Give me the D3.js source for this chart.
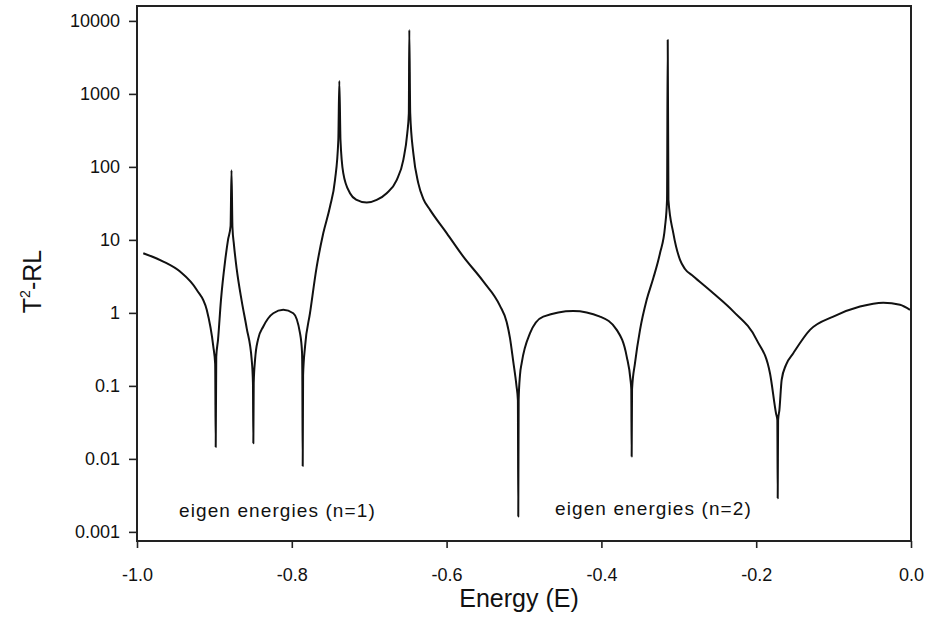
<!DOCTYPE html>
<html lang="en">
<head>
    <meta charset="UTF-8">
    <title>T2-RL vs Energy</title>
    <script src="https://d3js.org/d3.v7.min.js"></script>
    <style>
        body { margin: 0; background: #fff; }
        svg { font-family: "Liberation Sans", Arial, sans-serif; }
        .tick text { font-size: 18px; fill: #111; }
        .tick line { stroke: #222; stroke-width: 1.6; }
    </style>
</head>
<body>
    <svg width="930" height="643"></svg>

    <script>
        // values (energy, T^2-RL)
        const energy = [
            -0.9919, -0.9660, -0.9444, -0.9229, -0.9099, -0.9014, -0.8990, -0.8983, -0.8976, -0.8953,
            -0.8915, -0.8863, -0.8824, -0.8791, -0.8779, -0.8767, -0.8747, -0.8712, -0.8647, -0.8583,
            -0.8518, -0.8502, -0.8497, -0.8492, -0.8475, -0.8437, -0.8368, -0.8239, -0.8110, -0.7981,
            -0.7894, -0.7868, -0.7864, -0.7859, -0.7854, -0.7829, -0.7765, -0.7678, -0.7593, -0.7506,
            -0.7442, -0.7399, -0.7386, -0.7371, -0.7335, -0.7248, -0.7162, -0.7032, -0.6903, -0.6774,
            -0.6645, -0.6559, -0.6508, -0.6488, -0.6482, -0.6470, -0.6430, -0.6366, -0.6301, -0.6214,
            -0.5999, -0.5784, -0.5526, -0.5310, -0.5224, -0.5181, -0.5140, -0.5097, -0.5079, -0.5074,
            -0.5069, -0.5052, -0.5030, -0.4922, -0.4751, -0.4363, -0.4018, -0.3802, -0.3673, -0.3624,
            -0.3614, -0.3609, -0.3604, -0.3566, -0.3501, -0.3415, -0.3329, -0.3243, -0.3178, -0.3152,
            -0.3143, -0.3134, -0.3071, -0.2984, -0.2920, -0.2813, -0.2554, -0.2296, -0.1994, -0.1822,
            -0.1744, -0.1727, -0.1722, -0.1717, -0.1700, -0.1671, -0.1615, -0.1521, -0.1305, -0.1004,
            -0.0659, -0.0358, -0.0142, -0.0013
        ];
        const t2rl = [
            6.57, 5.05, 3.68, 2.07, 1.10, 0.345, 0.20, 0.0146, 0.25, 0.43,
            1.51, 5.0, 10, 15.5, 90, 15, 8.5, 4.0, 1.45, 0.62,
            0.227, 0.11, 0.0164, 0.11, 0.227, 0.43, 0.65, 0.99, 1.10, 0.99,
            0.527, 0.29, 0.14, 0.0080, 0.14, 0.345, 0.99, 4.3, 12.4, 28.6,
            66, 234, 1507, 234, 82, 43.6, 35.3, 32.4, 35.3, 43.6,
            66, 125, 290, 543, 7530, 543, 154, 60, 36.5, 25.8,
            12.4, 5.9, 2.7, 1.25, 0.75, 0.45, 0.22, 0.10, 0.064, 0.00162,
            0.064, 0.14, 0.205, 0.527, 0.89, 1.065, 0.89, 0.585, 0.252, 0.121,
            0.09, 0.0108, 0.09, 0.205, 0.585, 1.51, 3.0, 6.57, 15.2, 35.3,
            5490, 35.3, 12.4, 5.32, 4.0, 3.18, 1.86, 1.05, 0.427, 0.149,
            0.042, 0.034, 0.0029, 0.034, 0.047, 0.121, 0.194, 0.28, 0.585, 0.89,
            1.22, 1.38, 1.29, 1.10
        ];

        const xTickValues = [-1.0, -0.8, -0.6, -0.4, -0.2, 0.0];
        const yTickValues = [10000, 1000, 100, 10, 1, 0.1, 0.01, 0.001];
        const yTickLabels = ["10000", "1000", "100", "10", "1", "0.1", "0.01", "0.001"];
        const annotationLabels = ["eigen energies (n=1)", "eigen energies (n=2)"];

        const margin = { top: 6, right: 19, bottom: 102, left: 137 };
        const width = 930 - margin.left - margin.right;
        const height = 643 - margin.top - margin.bottom;

        const svg = d3.select("svg")
            .append("g")
            .attr("transform", "translate(" + margin.left + "," + margin.top + ")");

        const x = d3.scaleLinear()
            .domain([-1.0, 0.0])
            .range([0, width]);

        const y = d3.scaleLog()
            .domain([0.00075, 16000])
            .range([height, 0]);

        // axes
        const xAxis = svg.append("g")
            .attr("transform", "translate(0," + height + ")")
            .call(d3.axisBottom(x)
                .tickValues(xTickValues)
                .tickFormat(d => d.toFixed(1))
                .tickSize(7)
                .tickPadding(20));
        xAxis.select(".domain").remove();

        const yAxis = svg.append("g")
            .call(d3.axisLeft(y)
                .tickValues(yTickValues)
                .tickFormat((d, i) => yTickLabels[i])
                .tickSize(8)
                .tickPadding(9));
        yAxis.select(".domain").remove();

        // frame
        svg.append("rect")
            .attr("x", 0)
            .attr("y", 0)
            .attr("width", width)
            .attr("height", height)
            .attr("fill", "none")
            .attr("stroke", "#222")
            .attr("stroke-width", 2);

        // curve
        const points = energy.map((e, i) => [e, t2rl[i]]);
        const line = d3.line()
            .x(d => x(d[0]))
            .y(d => y(d[1]))
            .curve(d3.curveMonotoneX);

        svg.append("path")
            .datum(points)
            .attr("fill", "none")
            .attr("stroke", "#111")
            .attr("stroke-width", 2)
            .attr("stroke-linejoin", "round")
            .attr("d", line);

        // annotations
        svg.append("text")
            .attr("x", x(-0.9457))
            .attr("y", y(0.00158))
            .attr("font-size", 19)
            .attr("letter-spacing", 1.1)
            .attr("fill", "#111")
            .text(annotationLabels[0]);

        svg.append("text")
            .attr("x", x(-0.4599))
            .attr("y", y(0.00168))
            .attr("font-size", 19)
            .attr("letter-spacing", 1.1)
            .attr("fill", "#111")
            .text(annotationLabels[1]);

        // axis titles
        svg.append("text")
            .attr("x", width / 2 - 5)
            .attr("y", height + 66)
            .attr("text-anchor", "middle")
            .attr("font-size", 25)
            .attr("fill", "#111")
            .text("Energy (E)");

        const yTitle = svg.append("text")
            .attr("transform", "translate(-96," + (height / 2 + 8) + ") rotate(-90)")
            .attr("text-anchor", "middle")
            .attr("font-size", 25)
            .attr("fill", "#111");
        yTitle.append("tspan").text("T");
        yTitle.append("tspan").attr("font-size", 14).attr("dy", -11).text("2");
        yTitle.append("tspan").attr("dy", 11).text("-RL");
    </script>
</body>
</html>
